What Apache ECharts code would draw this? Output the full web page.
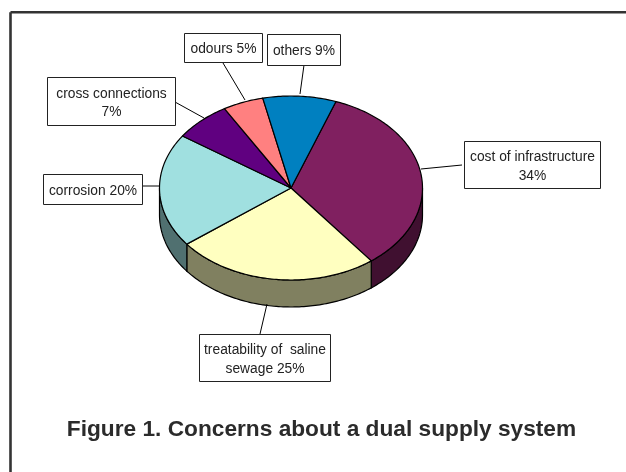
<!DOCTYPE html>
<html><head><meta charset="utf-8">
<style>html,body{margin:0;padding:0;background:#fff}#c{width:626px;height:472px}</style>
<script src="https://cdn.jsdelivr.net/npm/echarts@6/dist/echarts.min.js"></script>
</head><body><div id="c"></div>
<script>
var categories = ['cost of infrastructure','treatability of saline sewage','corrosion','cross connections','odours','others'];
var values = [34,25,20,7,5,9];
var topColors = ['#802060','#FFFFC0','#A0E0E0','#600080','#FF8080','#0080C0'];
var sideColors = ['#401030','#808060','#507070','#300040','#804040','#004060'];
var labelLines = [['cost of infrastructure','34%'],['treatability of  saline','sewage 25%'],['corrosion 20%'],['cross connections','7%'],['odours 5%'],['others 9%']];

var CX=291, CY=188, RX=131.5, RY=92, DEPTH=27, START=20;
var boxes = [[464,141,136,47],[199,334,131,47],[43,174,99,30],[47,77,128,48],[184,33,78,29],[267,34,73,31]];
var leaders = [[462,165,421,169],[260,334,267,304],[142,186,160,186],[175,102,204,118],[223,63,245,100],[304,65,300,94]];

var total = values.reduce(function(a,b){return a+b;},0);
function pt(deg,dy){var r=deg*Math.PI/180;return [CX+RX*Math.sin(r),CY-RY*Math.cos(r)+(dy||0)];}
function arc(a,b,dy){var pts=[],n=Math.max(2,Math.ceil(Math.abs(b-a)));for(var i=0;i<=n;i++)pts.push(pt(a+(b-a)*i/n,dy));return pts;}

function renderSlice(params,api){
  var i=params.dataIndex, before=0;
  for(var k=0;k<i;k++)before+=values[k];
  var a=START+before/total*360, b=a+api.value(0)/total*360;
  var children=[];
  var s=Math.max(a,90), e=Math.min(b,270);
  if(e>s){
    children.push({type:'polygon',z2:1,shape:{points:arc(s,e,0).concat(arc(e,s,DEPTH))},
      style:{fill:sideColors[i],stroke:'#000',lineWidth:1.2}});
  }
  children.push({type:'polygon',z2:2,shape:{points:[[CX,CY]].concat(arc(a,b,0))},
    style:{fill:topColors[i],stroke:'#000',lineWidth:1.2,lineJoin:'round'}});
  return {type:'group',children:children};
}
function renderLabel(params,api){
  var i=params.dataIndex,bx=boxes[i],l=leaders[i];
  return {type:'group',children:[
    {type:'line',z2:3,shape:{x1:l[0],y1:l[1],x2:l[2],y2:l[3]},style:{stroke:'#000',lineWidth:1}},
    {type:'rect',z2:4,shape:{x:bx[0]+.5,y:bx[1]+.5,width:bx[2],height:bx[3]},style:{fill:'#fff',stroke:'#222',lineWidth:1}},
    {type:'text',z2:5,style:{x:bx[0]+bx[2]/2+.5,y:bx[1]+bx[3]/2+2,text:labelLines[i].join('\n'),align:'center',verticalAlign:'middle',
      font:'13.8px "Liberation Sans"',lineHeight:18.5,fill:'#222'}}
  ]};
}
var chart=echarts.init(document.getElementById('c'),null,{renderer:'canvas'});
chart.setOption({
  animation:false,
  backgroundColor:'#fff',
  title:{text:'Figure 1. Concerns about a dual supply system',left:316.5,top:413.5,textAlign:'center',
    textStyle:{fontFamily:'Liberation Sans',fontWeight:'bold',fontSize:22.7,color:'#2b2b2b'}},
  graphic:[
    {type:'line',shape:{x1:10.5,y1:12.3,x2:626,y2:12.3},style:{stroke:'#333',lineWidth:2.6}},
    {type:'line',shape:{x1:10.5,y1:12.3,x2:10.5,y2:472},style:{stroke:'#333',lineWidth:2.6}}
  ],
  series:[
    {type:'custom',coordinateSystem:'none',renderItem:renderSlice,silent:true,
      data:values.map(function(v,i){return {name:categories[i],value:[v]};})},
    {type:'custom',coordinateSystem:'none',renderItem:renderLabel,silent:true,z:3,
      data:categories.map(function(c,i){return {name:c,value:[values[i]]};})}
  ]
});
</script></body></html>
